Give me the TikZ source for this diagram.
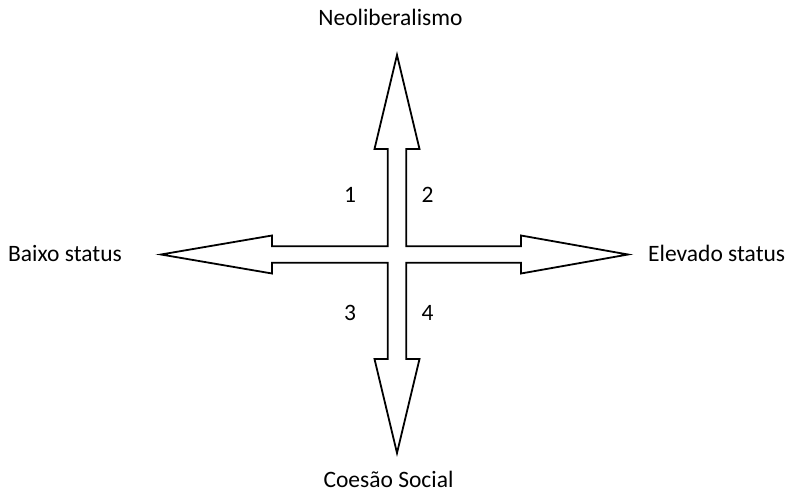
\documentclass[tikz,border=0pt]{standalone}
\usepackage{fontspec}
\setmainfont{Carlito}
\begin{document}
\begin{tikzpicture}[x=1pt,y=-1pt,
  lbl/.style={inner sep=0pt,font=\fontsize{23.5}{28}\selectfont},
  crossarrow/.style={draw=black,line width=1.8pt,fill=white,line join=miter}]
\useasboundingbox (0,0) rectangle (789,495);
% four-way block arrow
\draw[crossarrow] (397,55) -- (419.5,149) -- (406.2,149) -- (406.2,246.2)
  -- (521,246.2) -- (521,235.5) -- (628,254.5) -- (521,273.5) -- (521,262.8)
  -- (406.2,262.8) -- (406.2,359) -- (419.5,359) -- (397,453) -- (374.5,359)
  -- (387.8,359) -- (387.8,262.8) -- (272,262.8) -- (272,273.5) -- (161,254.5)
  -- (272,235.5) -- (272,246.2) -- (387.8,246.2) -- (387.8,149) -- (374.5,149) -- cycle;
% labels
\node[lbl,anchor=base] (neo) at (390.5,26) {Neoliberalismo};
\node[lbl,anchor=base] (coes) at (388.5,487.5) {Coesão Social};
\node[lbl,anchor=base west] (baixo) at (8,261) {Baixo status};
\node[lbl,anchor=base west] (elev) at (648,261) {Elevado status};
\node[lbl,anchor=base] (q1) at (350,202) {1};
\node[lbl,anchor=base] (q2) at (427.5,202) {2};
\node[lbl,anchor=base] (q3) at (350,320) {3};
\node[lbl,anchor=base] (q4) at (427.5,320) {4};
\end{tikzpicture}
\end{document}
